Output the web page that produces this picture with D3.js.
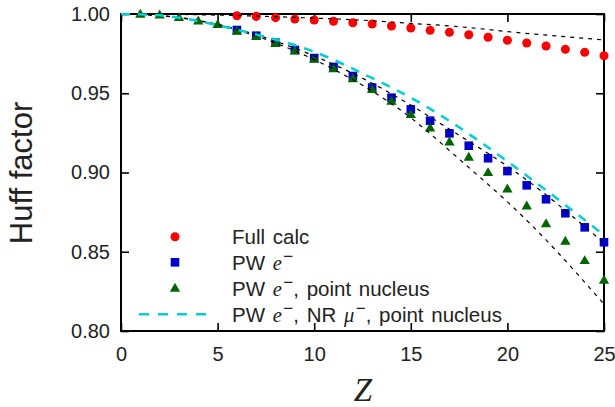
<!DOCTYPE html>
<html>
<head>
<meta charset="utf-8">
<script src="https://cdn.jsdelivr.net/npm/d3@7"></script>
<style>
  body { margin: 0; background: #fff; }
  text { font-family: "Liberation Sans", Arial, sans-serif; fill: #222; }
</style>
</head>
<body>
<script>
// point series
const zFull = d3.range(6, 26)
const fullCalc = [0.9989, 0.9985, 0.9977, 0.9968, 0.9962, 0.9954, 0.9945, 0.9937, 0.9924, 0.9912,
                  0.9897, 0.9885, 0.9869, 0.9853, 0.9834, 0.9817, 0.9798, 0.9777, 0.9758, 0.9737]

const zPW = d3.range(6, 26)
const pwE = [0.9899, 0.9863, 0.9819, 0.9773, 0.9722, 0.9666, 0.9609, 0.9536, 0.9472, 0.9398,
             0.9327, 0.9247, 0.9169, 0.9090, 0.9009, 0.8919, 0.8831, 0.8743, 0.8654, 0.8560]

const zPoint = d3.range(1, 26)
const pwPoint = [1.0000, 0.9996, 0.9979, 0.9958, 0.9935, 0.9893, 0.9859, 0.9815, 0.9768, 0.9716,
                 0.9657, 0.9594, 0.9525, 0.9451, 0.9367, 0.9283, 0.9194, 0.9098, 0.9001, 0.8898,
                 0.8791, 0.8679, 0.8568, 0.8446, 0.8322]

// line series
const zLine = [0, 2.5, 5, 7.5, 10, 12.5, 15, 17.5, 20, 22.5, 25]
const nrMuon   = [1.000, 0.9985, 0.9929, 0.9855, 0.9762, 0.9625, 0.9472, 0.9285, 0.9070, 0.8842, 0.8605]
const fitFull  = [1.000, 0.9998, 0.9993, 0.9985, 0.9974, 0.9961, 0.9941, 0.9920, 0.9889, 0.9862, 0.9836]
const fitPW    = [1.000, 0.9985, 0.9935, 0.9850, 0.9735, 0.9595, 0.9425, 0.9235, 0.9040, 0.8810, 0.8555]
const fitPoint = [1.000, 0.9984, 0.9932, 0.9840, 0.9712, 0.9550, 0.9345, 0.9085, 0.8815, 0.8510, 0.8170]

const xTicks = [0, 5, 10, 15, 20, 25]
const yTicks = [0.80, 0.85, 0.90, 0.95, 1.00]

const W = 615, H = 407
const mLeft = 121, mRight = 604, mTop = 14, mBottom = 331

const svg = d3.select("body").append("svg")
    .attr("width", W)
    .attr("height", H)

const x = d3.scaleLinear().domain([0, 25]).range([mLeft, mRight])
const y = d3.scaleLinear().domain([0.80, 1.00]).range([mBottom, mTop])

// axes, ticks pointing inward on all four sides
function styleAxis(g) {
    g.select(".domain").remove()
    g.selectAll(".tick line").attr("stroke", "#000").attr("stroke-width", 1.6)
    g.selectAll(".tick text").style("font-size", "20px").attr("fill", "#222")
}

svg.append("g")
    .attr("transform", `translate(0,${mBottom})`)
    .call(d3.axisBottom(x).tickValues(xTicks).tickSizeInner(-8).tickSizeOuter(0).tickPadding(16))
    .call(styleAxis)

svg.append("g")
    .attr("transform", `translate(0,${mTop})`)
    .call(d3.axisTop(x).tickValues(xTicks).tickSizeInner(-8).tickSizeOuter(0).tickFormat(""))
    .call(styleAxis)

svg.append("g")
    .attr("transform", `translate(${mLeft},0)`)
    .call(d3.axisLeft(y).tickValues(yTicks).tickSizeInner(-8).tickSizeOuter(0).tickPadding(11).tickFormat(d3.format(".2f")))
    .call(styleAxis)

svg.append("g")
    .attr("transform", `translate(${mRight},0)`)
    .call(d3.axisRight(y).tickValues(yTicks).tickSizeInner(-8).tickSizeOuter(0).tickFormat(""))
    .call(styleAxis)

svg.append("rect")
    .attr("x", mLeft).attr("y", mTop)
    .attr("width", mRight - mLeft).attr("height", mBottom - mTop)
    .attr("fill", "none").attr("stroke", "#000").attr("stroke-width", 2)

// markers
const circleSym = d3.symbol().type(d3.symbolCircle).size(64)
const squareSym = d3.symbol().type(d3.symbolSquare).size(74)
const triSym = d3.symbol().type(d3.symbolTriangle).size(46)

svg.append("g").selectAll("path")
    .data(zFull.map((z, i) => [z, fullCalc[i]]))
    .enter().append("path")
    .attr("d", circleSym)
    .attr("transform", d => `translate(${x(d[0])},${y(d[1])})`)
    .attr("fill", "#ff0000")

svg.append("g").selectAll("path")
    .data(zPW.map((z, i) => [z, pwE[i]]))
    .enter().append("path")
    .attr("d", squareSym)
    .attr("transform", d => `translate(${x(d[0])},${y(d[1])})`)
    .attr("fill", "#0000cc")

svg.append("g").selectAll("path")
    .data(zPoint.map((z, i) => [z, pwPoint[i]]))
    .enter().append("path")
    .attr("d", triSym)
    .attr("transform", d => `translate(${x(d[0])},${y(d[1]) + 0.8})`)
    .attr("fill", "#006400")

// lines
const line = d3.line()
    .x(d => x(d[0]))
    .y(d => y(d[1]))
    .curve(d3.curveNatural)

const fits = [fitFull, fitPW, fitPoint]
fits.forEach(vals => {
    svg.append("path")
        .attr("d", line(zLine.map((z, i) => [z, vals[i]])))
        .attr("fill", "none")
        .attr("stroke", "#000")
        .attr("stroke-width", 1.2)
        .attr("stroke-dasharray", "4,5")
})

svg.append("path")
    .attr("d", line(zLine.map((z, i) => [z, nrMuon[i]])))
    .attr("fill", "none")
    .attr("stroke", "#00ced1")
    .attr("stroke-width", 2.5)
    .attr("stroke-dasharray", "9,8")

// legend
const legend = svg.append("g")
const rowY = [236.7, 262.3, 288, 314.3]
const textX = 232

legend.append("path").attr("d", circleSym).attr("transform", `translate(175,${rowY[0]})`).attr("fill", "#ff0000")
legend.append("path").attr("d", squareSym).attr("transform", `translate(175,${rowY[1]})`).attr("fill", "#0000cc")
legend.append("path").attr("d", triSym).attr("transform", `translate(175,${rowY[2] + 0.8})`).attr("fill", "#006400")
legend.append("line")
    .attr("x1", 139).attr("x2", 207).attr("y1", rowY[3]).attr("y2", rowY[3])
    .attr("stroke", "#00ced1").attr("stroke-width", 2.5).attr("stroke-dasharray", "10,9")

function addLabel(row, parts) {
    const t = legend.append("text")
        .attr("x", textX).attr("y", rowY[row] + 7.5)
        .style("font-size", "20.5px")
        .style("word-spacing", "2px")
    parts.forEach(p => {
        const s = t.append("tspan").text(p.text)
        if (p.math) s.style("font-family", "'Liberation Serif', serif").style("font-style", "italic")
        if (p.sup) s.attr("dy", -8).attr("dx", 1.5).style("font-size", "17px")
        if (p.down) s.attr("dy", 8)
    })
}

addLabel(0, [{text: "Full calc"}])
addLabel(1, [{text: "PW "}, {text: "e", math: true}, {text: "\u2212", sup: true}])
addLabel(2, [{text: "PW "}, {text: "e", math: true}, {text: "\u2212", sup: true}, {text: ", point nucleus", down: true}])
addLabel(3, [{text: "PW "}, {text: "e", math: true}, {text: "\u2212", sup: true}, {text: ", NR ", down: true},
             {text: "\u03bc", math: true}, {text: "\u2212", sup: true}, {text: ", point nucleus", down: true}])

// axis titles
svg.append("text")
    .attr("x", 363).attr("y", 401)
    .attr("text-anchor", "middle")
    .style("font-family", "'Liberation Serif', serif")
    .style("font-style", "italic")
    .style("font-size", "33px")
    .text("Z")

svg.append("text")
    .attr("transform", "translate(32,173) rotate(-90)")
    .attr("text-anchor", "middle")
    .style("font-size", "31px")
    .text("Huff factor")
</script>
</body>
</html>
